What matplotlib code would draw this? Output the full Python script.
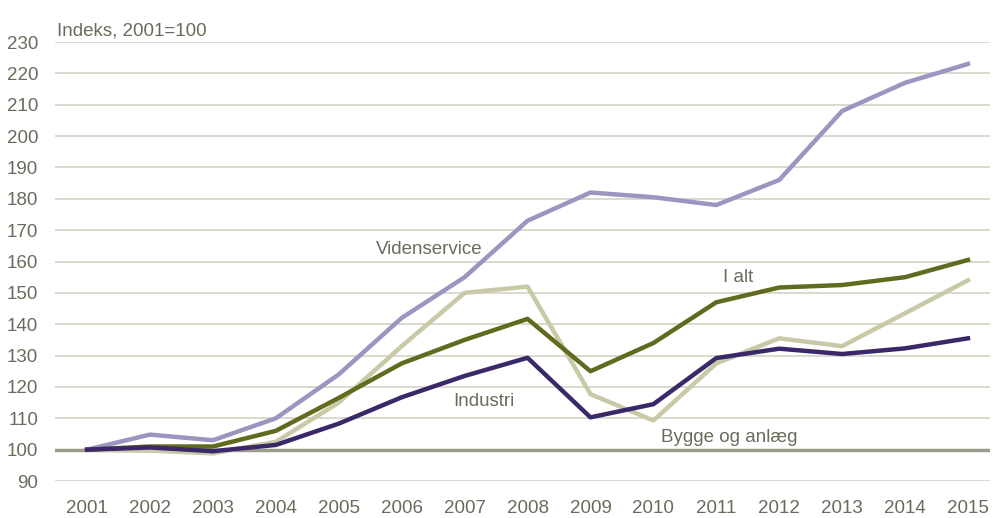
import matplotlib.pyplot as plt
import matplotlib.font_manager as fm

years = list(range(2001, 2016))
videnservice = [100, 104.8, 103, 110, 124, 142, 155, 173, 182, 180.5, 178, 186, 208, 217, 223]
i_alt = [100, 101, 101, 106, 116.5, 127.5, 135, 141.7, 125, 134, 147, 151.7, 152.5, 155, 160.5]
bygge = [100, 99.7, 98.8, 102.5, 115, 133, 150, 152, 117.7, 109.3, 127.5, 135.5, 133, 143.5, 154]
industri = [100, 100.7, 99.5, 101.5, 108.3, 116.7, 123.5, 129.3, 110.3, 114.5, 129.2, 132.2, 130.5, 132.3, 135.5]

names = [f.name for f in fm.fontManager.ttflist]
fam = 'Liberation Sans Narrow' if 'Liberation Sans Narrow' in names else 'Liberation Sans'
plt.rcParams['font.family'] = [fam, 'DejaVu Sans']

txt = '#6b6b5b'
fig = plt.figure(figsize=(9.93, 5.18), dpi=100)
W, H = 993, 518
ax = fig.add_axes([55 / W, 1 - 481 / H, (990 - 55) / W, (481 - 42) / H])

ax.set_ylim(90, 230)
ax.set_xlim(2000.49, 2015.35)
ax.set_yticks(range(90, 231, 10))
ax.set_xticks(years)
ax.grid(axis='y', color='#d3d3c6', lw=1.2)
ax.set_axisbelow(True)
ax.axhline(100, color='#9c9c8a', lw=2.5, zorder=1)
for s in ax.spines.values():
    s.set_visible(False)
ax.tick_params(length=0, labelsize=13.5, colors=txt)
ax.tick_params(axis='y', pad=12)
ax.tick_params(axis='x', pad=14)

ax.plot(years, videnservice, color='#9d95c1', lw=3.2, zorder=3)
ax.plot(years, bygge, color='#c9c9a7', lw=3.2, zorder=3)
ax.plot(years, i_alt, color='#616a1e', lw=3.2, zorder=4)
ax.plot(years, industri, color='#3a2868', lw=3.2, zorder=5)

ax.text(2001.5 - 0.98, 233.5, 'Indeks, 2001=100', color=txt, fontsize=13.5, va='center', ha='left', clip_on=False)
ax.text(2006.43, 163.8, 'Videnservice', color=txt, fontsize=13.5, va='center', ha='center')
ax.text(2011.35, 155, 'I alt', color=txt, fontsize=13.5, va='center', ha='center')
ax.text(2007.3, 115.5, 'Industri', color=txt, fontsize=13.5, va='center', ha='center')
ax.text(2011.2, 103.8, 'Bygge og anlæg', color=txt, fontsize=13.5, va='center', ha='center')

fig.savefig('out.png', dpi=100)
